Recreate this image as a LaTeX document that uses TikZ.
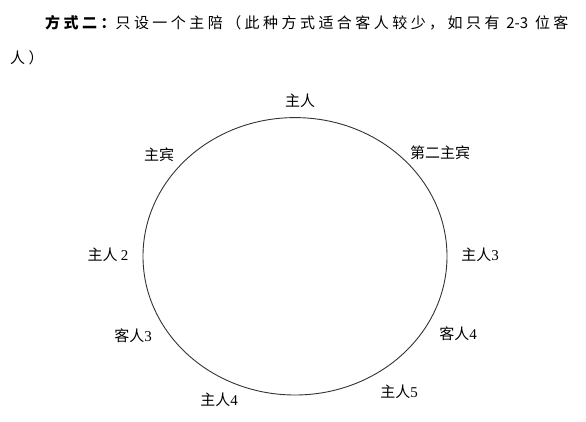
\documentclass[tikz,border=0pt]{standalone}
\usepackage{fontspec}
\newfontfamily\cjk{Noto Sans CJK SC}
\newfontfamily\cjkls[LetterSpace=23]{Noto Sans CJK SC}
\newfontfamily\numf{Liberation Serif}
\begin{document}
\begin{tikzpicture}[x=1pt,y=-1pt,
  lbl/.style={inner sep=0pt, font=\fontsize{15}{15}\selectfont\cjk},
  ttl/.style={inner sep=0pt, anchor=west, font=\fontsize{15}{15}\selectfont\cjkls},
  table/.style={line width=0.9pt, draw=black!80}]
\useasboundingbox (0,0) rectangle (586,422);
\node[ttl] (title) at (45,23) {{\bfseries 方式二：}只设一个主陪（此种方式适合客人较少，如只有 {\cjk 2-3} 位客};
\node[ttl] (title2) at (10,58) {人）};
\coordinate (c) at (295,256.3);
\draw[table] (c) ellipse [x radius=152pt, y radius=138.7pt];
\node[lbl] (host) at (300,101) {主人};
\node[lbl] (guest) at (159,155) {主宾};
\node[lbl] (guest2) at (440,153) {第二主宾};
\node[lbl] (host2) at (108,255) {主人 {\numf 2}};
\node[lbl] (host3) at (480,255) {主人{\numf 3}};
\node[lbl] (guest3) at (133,336) {客人{\numf 3}};
\node[lbl] (guest4) at (458,334) {客人{\numf 4}};
\node[lbl] (host4) at (219,400) {主人{\numf 4}};
\node[lbl] (host5) at (399,392) {主人{\numf 5}};
\end{tikzpicture}
\end{document}
